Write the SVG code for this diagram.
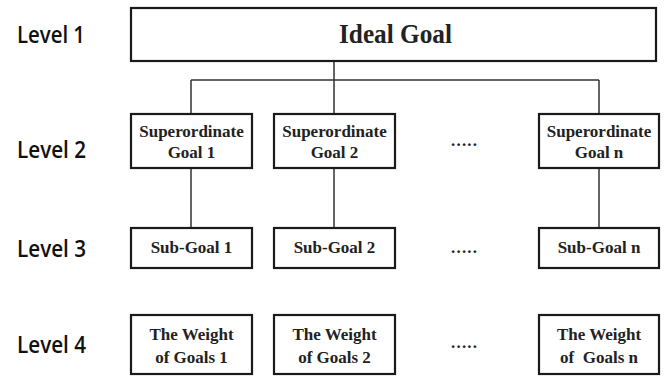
<svg xmlns="http://www.w3.org/2000/svg" width="664" height="376" viewBox="0 0 664 376">
<style>
.box{fill:#fff;stroke:#1a1a1a;stroke-width:2.2}
.lvl{font-family:"Open Sans","Liberation Sans",sans-serif;font-weight:600;font-size:24px;fill:#111}
.t{font-family:"Liberation Serif","Times New Roman",serif;font-weight:bold;font-size:17px;fill:#222;text-anchor:middle}
.big{font-size:28px}
.con{fill:none;stroke:#333;stroke-width:1.5}
</style>
<rect width="664" height="376" fill="#fff"/>
<g id="labels">
<text class="lvl" x="17" y="43" textLength="68" lengthAdjust="spacingAndGlyphs">Level 1</text>
<text class="lvl" x="17" y="158" textLength="69" lengthAdjust="spacingAndGlyphs">Level 2</text>
<text class="lvl" x="17" y="257" textLength="69" lengthAdjust="spacingAndGlyphs">Level 3</text>
<text class="lvl" x="17" y="353" textLength="69" lengthAdjust="spacingAndGlyphs">Level 4</text>
</g>
<g id="connectors">
<path class="con" d="M334,61 V80 M191,80 H599 M191,80 V114 M334,80 V114 M599,80 V114"/>
<path class="con" d="M191,168 V228 M334,168 V228 M599,168 V228"/>
</g>
<g id="ideal">
<rect class="box" x="131" y="8" width="525" height="53"/>
<text class="t big" x="395.5" y="43" textLength="113" lengthAdjust="spacingAndGlyphs">Ideal Goal</text>
</g>
<g id="sup1">
<rect class="box" x="131" y="114" width="121" height="54"/>
<text class="t" x="191.5" y="137">Superordinate</text>
<text class="t" x="191.5" y="158">Goal 1</text>
</g>
<g id="sup2">
<rect class="box" x="274" y="114" width="121" height="54"/>
<text class="t" x="334.5" y="137">Superordinate</text>
<text class="t" x="334.5" y="158">Goal 2</text>
</g>
<g id="supn">
<rect class="box" x="539" y="114" width="120" height="54"/>
<text class="t" x="599" y="137">Superordinate</text>
<text class="t" x="599" y="158">Goal n</text>
</g>
<g id="sub1">
<rect class="box" x="131" y="228" width="121" height="40"/>
<text class="t" x="191.5" y="253">Sub-Goal 1</text>
</g>
<g id="sub2">
<rect class="box" x="274" y="228" width="121" height="40"/>
<text class="t" x="334.5" y="253">Sub-Goal 2</text>
</g>
<g id="subn">
<rect class="box" x="539" y="228" width="120" height="40"/>
<text class="t" x="599" y="253">Sub-Goal n</text>
</g>
<g id="w1">
<rect class="box" x="131" y="315" width="121" height="59"/>
<text class="t" x="191.5" y="340">The Weight</text>
<text class="t" x="191.5" y="363">of Goals 1</text>
</g>
<g id="w2">
<rect class="box" x="274" y="315" width="121" height="59"/>
<text class="t" x="334.5" y="340">The Weight</text>
<text class="t" x="334.5" y="363">of Goals 2</text>
</g>
<g id="wn">
<rect class="box" x="539" y="315" width="120" height="59"/>
<text class="t" x="599" y="340">The Weight</text>
<text class="t" x="599" y="363" xml:space="preserve">of  Goals n</text>
</g>
<g id="dots">
<text class="t" x="464" y="146" textLength="26" lengthAdjust="spacing">.....</text>
<text class="t" x="464" y="253" textLength="26" lengthAdjust="spacing">.....</text>
<text class="t" x="464" y="348" textLength="26" lengthAdjust="spacing">.....</text>
</g>
</svg>
